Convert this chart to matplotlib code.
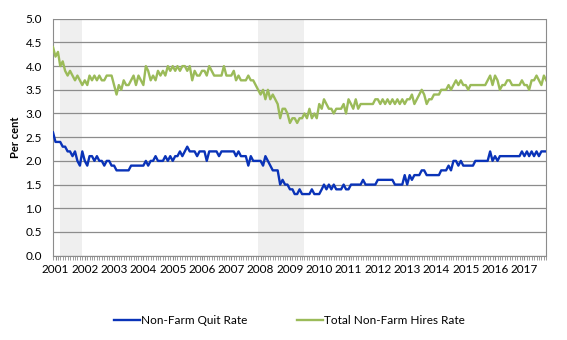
#JOLTS quits and hires rates, monthly from Dec 2000, recessions shaded
import pandas as pd
import matplotlib.pyplot as plt
import matplotlib.dates as mdates

plt.rcParams['font.family'] = ['Lato', 'DejaVu Sans']

start_month = '2000-12-01'

quit_rate = [2.6,
    2.4, 2.4, 2.4, 2.3, 2.3, 2.2, 2.2, 2.1, 2.2, 2.0, 1.9, 2.2,
    2.0, 1.9, 2.1, 2.1, 2.0, 2.1, 2.0, 2.0, 1.9, 2.0, 2.0, 1.9,
    1.9, 1.8, 1.8, 1.8, 1.8, 1.8, 1.8, 1.9, 1.9, 1.9, 1.9, 1.9,
    1.9, 2.0, 1.9, 2.0, 2.0, 2.1, 2.0, 2.0, 2.0, 2.1, 2.0, 2.1,
    2.0, 2.1, 2.1, 2.2, 2.1, 2.2, 2.3, 2.2, 2.2, 2.2, 2.1, 2.2,
    2.2, 2.2, 2.0, 2.2, 2.2, 2.2, 2.2, 2.1, 2.2, 2.2, 2.2, 2.2,
    2.2, 2.2, 2.1, 2.2, 2.1, 2.1, 2.1, 1.9, 2.1, 2.0, 2.0, 2.0,
    2.0, 1.9, 2.1, 2.0, 1.9, 1.8, 1.8, 1.8, 1.5, 1.6, 1.5, 1.5,
    1.4, 1.4, 1.3, 1.3, 1.4, 1.3, 1.3, 1.3, 1.3, 1.4, 1.3, 1.3,
    1.3, 1.4, 1.5, 1.4, 1.5, 1.4, 1.5, 1.4, 1.4, 1.4, 1.5, 1.4,
    1.4, 1.5, 1.5, 1.5, 1.5, 1.5, 1.6, 1.5, 1.5, 1.5, 1.5, 1.5,
    1.6, 1.6, 1.6, 1.6, 1.6, 1.6, 1.6, 1.5, 1.5, 1.5, 1.5, 1.7,
    1.5, 1.7, 1.6, 1.7, 1.7, 1.7, 1.8, 1.8, 1.7, 1.7, 1.7, 1.7,
    1.7, 1.7, 1.8, 1.8, 1.8, 1.9, 1.8, 2.0, 2.0, 1.9, 2.0, 1.9,
    1.9, 1.9, 1.9, 1.9, 2.0, 2.0, 2.0, 2.0, 2.0, 2.0, 2.2, 2.0,
    2.1, 2.0, 2.1, 2.1, 2.1, 2.1, 2.1, 2.1, 2.1, 2.1, 2.1, 2.2,
    2.1, 2.2, 2.1, 2.2, 2.1, 2.2, 2.1, 2.2, 2.2, 2.2]

hires_rate = [4.4,
    4.2, 4.3, 4.0, 4.1, 3.9, 3.8, 3.9, 3.8, 3.7, 3.8, 3.7, 3.6,
    3.7, 3.6, 3.8, 3.7, 3.8, 3.7, 3.8, 3.7, 3.7, 3.8, 3.8, 3.8,
    3.6, 3.4, 3.6, 3.5, 3.7, 3.6, 3.6, 3.7, 3.8, 3.6, 3.8, 3.7,
    3.6, 4.0, 3.9, 3.7, 3.8, 3.7, 3.9, 3.8, 3.9, 3.8, 4.0, 3.9,
    4.0, 3.9, 4.0, 3.9, 4.0, 4.0, 3.9, 4.0, 3.7, 3.9, 3.8, 3.8,
    3.9, 3.9, 3.8, 4.0, 3.9, 3.8, 3.8, 3.8, 3.8, 4.0, 3.8, 3.8,
    3.8, 3.9, 3.7, 3.8, 3.7, 3.7, 3.7, 3.8, 3.7, 3.7, 3.6, 3.5,
    3.4, 3.5, 3.3, 3.5, 3.3, 3.4, 3.3, 3.2, 2.9, 3.1, 3.1, 3.0,
    2.8, 2.9, 2.9, 2.8, 2.9, 2.9, 3.0, 2.9, 3.1, 2.9, 3.0, 2.9,
    3.2, 3.1, 3.3, 3.2, 3.1, 3.1, 3.0, 3.1, 3.1, 3.1, 3.2, 3.0,
    3.3, 3.2, 3.1, 3.3, 3.1, 3.2, 3.2, 3.2, 3.2, 3.2, 3.2, 3.3,
    3.3, 3.2, 3.3, 3.2, 3.3, 3.2, 3.3, 3.2, 3.3, 3.2, 3.3, 3.2,
    3.3, 3.3, 3.4, 3.2, 3.3, 3.4, 3.5, 3.4, 3.2, 3.3, 3.3, 3.4,
    3.4, 3.4, 3.5, 3.5, 3.5, 3.6, 3.5, 3.6, 3.7, 3.6, 3.7, 3.6,
    3.6, 3.5, 3.6, 3.6, 3.6, 3.6, 3.6, 3.6, 3.6, 3.7, 3.8, 3.6,
    3.8, 3.7, 3.5, 3.6, 3.6, 3.7, 3.7, 3.6, 3.6, 3.6, 3.6, 3.7,
    3.6, 3.6, 3.5, 3.7, 3.7, 3.8, 3.7, 3.6, 3.8, 3.7]

recessions = [('2001-03-01', '2001-11-30'), ('2007-12-01', '2009-06-30')]
year_labels = [str(y) for y in range(2001, 2018)]

months = pd.date_range(start_month, periods=len(quit_rate), freq='MS')

fig = plt.figure(figsize=(5.67, 3.40), dpi=100)
ax = fig.add_axes([0.0935, 0.248, 0.87, 0.697])

for r0, r1 in recessions:
    ax.axvspan(pd.Timestamp(r0), pd.Timestamp(r1), color='#efefef', lw=0, zorder=0)

ax.plot(months, quit_rate, color='#0a33b8', lw=1.7, label='Non-Farm Quit Rate', zorder=3)
ax.plot(months, hires_rate, color='#9bbb59', lw=1.7, label='Total Non-Farm Hires Rate', zorder=3)

ax.set_xlim(months[0], months[-1])
ax.set_ylim(0, 5)
ax.set_yticks([i * 0.5 for i in range(11)])
ax.yaxis.set_major_formatter(plt.FuncFormatter(lambda v, p: f'{v:.1f}'))
ax.yaxis.grid(True, color='#8c8c8c', lw=0.9)
ax.set_axisbelow(False)
ax.tick_params(axis='y', length=0, labelsize=8.5, pad=8)

ax.set_xticks([pd.Timestamp(y + '-01-01') for y in year_labels])
ax.set_xticklabels(year_labels)
ax.xaxis.set_minor_locator(mdates.MonthLocator())
ax.tick_params(axis='x', which='both', length=3, color='#8c8c8c', labelsize=8.5, pad=3)

for s in ['left', 'bottom', 'right']:
    ax.spines[s].set_color('#8c8c8c')
ax.spines['top'].set_visible(False)

ax.set_ylabel('Per cent', fontsize=8, fontweight='bold', labelpad=3)

fig.legend(loc='lower center', bbox_to_anchor=(0.51, 0.01), ncol=2, frameon=False,
           fontsize=8.5, handlelength=2.2, handletextpad=0.1, columnspacing=4.2)

plt.savefig('out.png', dpi=100)
